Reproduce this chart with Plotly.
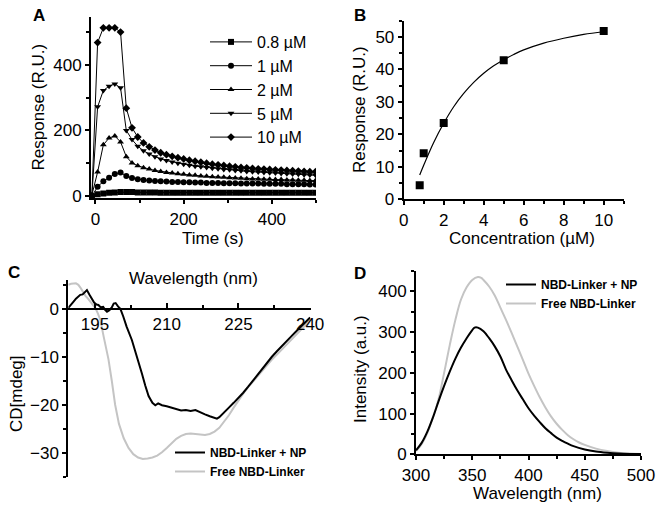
import plotly.graph_objects as go

W, H = 662, 511
FONT = "Arial, Liberation Sans, sans-serif"


def fx(p):
    return p / W


def fy(p):
    return 1 - p / H


# ---------------- Panel A data ----------------
time_s = [-8, 5, 18, 31, 44, 57, 70, 83, 96, 109, 122, 135, 148, 161, 174, 187, 200,
          213, 226, 239, 252, 265, 278, 291, 304, 317, 330, 343, 356, 369, 382, 395,
          408, 421, 434, 447, 460, 473, 486, 499]
resp_0_8uM = [0, 5, 8, 10, 11, 12, 12, 12, 11, 11, 11, 11, 10, 10, 10, 10, 10, 10, 10, 10,
              10, 10, 10, 10, 10, 10, 10, 10, 10, 10, 10, 10, 10, 10, 10, 10, 10, 10, 10, 10]
resp_1uM = [0, 28, 45, 56, 67, 72, 61, 55, 51, 49, 47, 46, 45, 44, 43, 43, 42, 42, 41, 41,
            40, 40, 40, 39, 39, 39, 38, 38, 38, 38, 37, 37, 37, 37, 36, 36, 36, 36, 35, 35]
resp_2uM = [3, 73, 156, 177, 183, 165, 120, 101, 92, 86, 82, 78, 75, 72, 70, 68, 66, 64, 63, 61,
            60, 59, 58, 57, 56, 55, 54, 53, 52, 52, 51, 51, 50, 50, 49, 49, 48, 48, 47, 47]
resp_5uM = [0, 272, 322, 335, 342, 330, 200, 172, 152, 138, 128, 120, 113, 108, 104, 100, 97,
            94, 91, 89, 87, 85, 83, 81, 80, 78, 77, 75, 74, 73, 72, 71, 70, 69, 68, 67, 66,
            65, 64, 63]
resp_10uM = [0, 468, 513, 513, 513, 500, 268, 208, 180, 162, 150, 140, 132, 126, 121, 117, 113,
             109, 106, 103, 100, 97, 95, 93, 91, 89, 87, 86, 84, 83, 82, 81, 80, 79, 78, 77,
             76, 75, 74, 74]
series_names_A = ["0.8 µM", "1 µM", "2 µM", "5 µM", "10 µM"]
series_symbols_A = ["square", "circle", "triangle-up", "triangle-down", "diamond"]

# ---------------- Panel B data ----------------
conc_uM = [0.8, 1, 2, 5, 10]
resp_B = [4.3, 14.2, 23.5, 42.8, 51.8]
fit_conc = [0.8, 1.0, 1.5, 2.0, 2.5, 3.0, 3.5, 4.0, 4.5, 5.0, 5.5, 6.0, 7.0, 8.0, 9.0, 10.0]
fit_resp = [7.5, 10.5, 17.5, 23.4, 28.5, 32.6, 36.0, 38.8, 41.1, 43.0, 44.6, 46.0, 48.1, 49.6,
            50.8, 51.6]

# ---------------- Panel C data ----------------
cd_np_nm = [189.4, 190, 190.5, 191, 191.5, 191.9, 192.4, 192.9, 193.3, 193.8, 194.3, 194.8,
            195.3, 195.7, 196.2, 196.7, 197.1, 197.5, 198, 198.5, 198.9, 199.3, 199.8, 200.3,
            200.9, 201.6, 202.7, 203.5, 204.1, 204.8, 205.5, 206.2, 207, 207.6, 208.2, 209,
            210, 211, 212, 213, 214, 215, 216, 217, 218, 219, 220, 220.5, 221, 222, 223, 224,
            225, 226, 227, 228, 229, 230, 231, 232, 233, 234, 235, 236, 237, 238, 239, 240]
cd_np = [0.2, 0.8, 1.5, 2.1, 2.6, 2.9, 3.0, 3.4, 3.9, 3.0, 2.0, 1.3,
         0.9, 0.8, 0.3, 0.4, -0.2, -0.6, -0.3, 0.3, 1.1, 1.2, 0.5, 0.0,
         -1.6, -3.7, -6.5, -9.0, -11.0, -13.5, -16.0, -18.2, -19.6, -20.1, -19.7, -20.1,
         -20.3, -20.6, -21.0, -21.2, -21.1, -21.3, -21.1, -21.6, -22.0, -22.4, -22.8, -22.9,
         -22.6, -21.7, -20.6, -19.6, -18.6, -17.5, -16.3, -15.0, -13.7, -12.4, -11.2, -10.0,
         -8.9, -7.8, -6.8, -5.8, -4.8, -3.8, -2.8, -1.8]
cd_free_nm = [189.4, 190, 191, 191.5, 192, 192.5, 193, 193.6, 194.3, 195.1, 195.6, 196.1,
              196.8, 197.3, 197.8, 198.5, 199.2, 200, 201, 202, 203, 204, 205, 206, 207,
              208, 209, 210, 211, 212, 213, 214, 215, 216, 217, 218, 219, 220, 221, 222,
              223, 224, 225, 226, 227, 228, 229, 230, 231, 232, 233, 234, 235, 236, 237,
              238, 239, 240]
cd_free = [5.0, 5.2, 5.3, 5.0, 4.3, 3.4, 2.7, 2.0, 1.0, 0.1, -1.0, -2.3,
           -5.8, -8.0, -10.5, -15.0, -20.0, -24.0, -27.0, -29.0, -30.3, -31.0, -31.3, -31.2,
           -31.0, -30.6, -29.9, -29.0, -28.0, -27.1, -26.5, -26.1, -26.0, -26.1, -26.25,
           -26.3, -26.1, -25.6, -24.8, -23.6, -22.2, -20.6, -19.1, -17.7, -16.4, -15.2,
           -14.0, -12.9, -11.8, -10.6, -9.6, -8.6, -7.6, -6.6, -5.6, -4.6, -3.5, -2.4]

# ---------------- Panel D data ----------------
fl_np_nm = [300, 305, 310, 315, 320, 325, 330, 335, 340, 345, 350, 352, 355, 360, 365, 370,
            375, 380, 385, 390, 395, 400, 405, 410, 415, 420, 425, 430, 435, 440, 450, 460,
            470, 480, 490, 500]
fl_np = [10, 28, 55, 90, 130, 168, 203, 235, 262, 285, 305, 311, 311, 302, 285, 265,
         240, 208, 182, 157, 135, 113, 95, 79, 64, 52, 41, 33, 26, 20, 12, 7,
         4, 2, 1, 0.5]
fl_free_nm = [300, 305, 310, 315, 320, 325, 330, 335, 340, 345, 350, 355, 358, 360, 365, 370,
              375, 380, 385, 390, 395, 400, 405, 410, 415, 420, 425, 430, 435, 440, 445, 450,
              460, 470, 480, 490, 500]
fl_free = [8, 25, 52, 90, 135, 200, 268, 330, 380, 410, 428, 435, 433, 428, 412, 390,
           360, 330, 298, 265, 232, 198, 168, 140, 115, 93, 75, 60, 47, 37, 29, 23,
           14, 8, 4, 2, 1]

legend_names_CD = ["NBD-Linker + NP", "Free NBD-Linker"]
BLACK = "#000000"
GREY = "#c4c4c4"

fig = go.Figure()

# Panel A traces
for name, sym, vals in zip(series_names_A, series_symbols_A,
                           [resp_0_8uM, resp_1uM, resp_2uM, resp_5uM, resp_10uM]):
    fig.add_trace(go.Scatter(x=time_s, y=vals, mode="lines+markers", name=name,
                             line=dict(color=BLACK, width=1),
                             marker=dict(symbol=sym, size=6, color=BLACK),
                             xaxis="x", yaxis="y", legend="legend"))

# Panel B traces
fig.add_trace(go.Scatter(x=fit_conc, y=fit_resp, mode="lines",
                         line=dict(color=BLACK, width=1.2, shape="spline"),
                         showlegend=False, xaxis="x2", yaxis="y2"))
fig.add_trace(go.Scatter(x=conc_uM, y=resp_B, mode="markers",
                         marker=dict(symbol="square", size=8, color=BLACK),
                         showlegend=False, xaxis="x2", yaxis="y2"))

# Panel C traces
fig.add_trace(go.Scatter(x=cd_free_nm, y=cd_free, mode="lines", name=legend_names_CD[1],
                         line=dict(color=GREY, width=2), xaxis="x3", yaxis="y3",
                         legend="legend2", legendrank=2))
fig.add_trace(go.Scatter(x=cd_np_nm, y=cd_np, mode="lines", name=legend_names_CD[0],
                         line=dict(color=BLACK, width=2), xaxis="x3", yaxis="y3",
                         legend="legend2", legendrank=1))

# Panel D traces
fig.add_trace(go.Scatter(x=fl_free_nm, y=fl_free, mode="lines", name=legend_names_CD[1],
                         line=dict(color=GREY, width=2, shape="spline"), xaxis="x4", yaxis="y4",
                         legend="legend3", legendrank=2))
fig.add_trace(go.Scatter(x=fl_np_nm, y=fl_np, mode="lines", name=legend_names_CD[0],
                         line=dict(color=BLACK, width=2, shape="spline"), xaxis="x4", yaxis="y4",
                         legend="legend3", legendrank=1))

tickfont = dict(family=FONT, size=17, color=BLACK)
common = dict(showline=True, linecolor=BLACK, linewidth=2, showgrid=False, zeroline=False,
              ticks="outside", ticklen=4, tickwidth=1.5, tickcolor=BLACK, tickfont=tickfont,
              automargin=False)

fig.update_layout(
    width=W, height=H,
    margin=dict(l=0, r=0, t=0, b=0, autoexpand=False),
    paper_bgcolor="white", plot_bgcolor="white",
    font=dict(family=FONT, color=BLACK),
    xaxis=dict(domain=[fx(91), fx(316)], range=[-10, 500], anchor="y",
               tickvals=[0, 200, 400],
               minor=dict(tickvals=[100, 300, 500], ticks="outside", ticklen=3, tickcolor=BLACK),
               **common),
    yaxis=dict(domain=[fy(198.3), fy(17)], range=[-7, 546], anchor="x",
               tickvals=[0, 200, 400],
               minor=dict(tickvals=[100, 300, 500], ticks="outside", ticklen=3, tickcolor=BLACK),
               **common),
    xaxis2=dict(domain=[fx(403.7), fx(623.7)], range=[0, 11], anchor="y2",
                tickvals=[0, 2, 4, 6, 8, 10],
                minor=dict(tickvals=[1, 3, 5, 7, 9, 11], ticks="outside", ticklen=3, tickcolor=BLACK),
                **common),
    yaxis2=dict(domain=[fy(199.3), fy(20.7)], range=[0, 55], anchor="x2",
                tickvals=[0, 10, 20, 30, 40, 50],
                minor=dict(tickvals=[5, 15, 25, 35, 45, 55], ticks="outside", ticklen=3, tickcolor=BLACK),
                **common),
    xaxis3=dict(domain=[fx(68.3), fx(310.6)], range=[189.4, 240.1], anchor="free",
                position=fy(308.8), tickvals=[195, 210, 225, 240],
                minor=dict(tickvals=[202.5, 217.5, 232.5], ticks="inside", ticklen=3, tickcolor=BLACK),
                showline=True, linecolor=BLACK, linewidth=2, showgrid=False, zeroline=False,
                ticks="inside", ticklen=5, tickwidth=1.5, tickcolor=BLACK, tickfont=tickfont,
                automargin=False),
    yaxis3=dict(domain=[fy(476.7), fy(280)], range=[-35, 6], anchor="x3",
                tickvals=[-30, -20, -10, 0],
                minor=dict(tickvals=[-35, -25, -15, -5, 5], ticks="outside", ticklen=3, tickcolor=BLACK),
                **common),
    xaxis4=dict(domain=[fx(416), fx(641)], range=[300, 500], anchor="y4",
                tickvals=[300, 350, 400, 450, 500],
                minor=dict(tickvals=[325, 375, 425, 475], ticks="outside", ticklen=3, tickcolor=BLACK),
                **common),
    yaxis4=dict(domain=[fy(454.3), fy(271)], range=[0, 450], anchor="x4",
                tickvals=[0, 100, 200, 300, 400],
                minor=dict(tickvals=[50, 150, 250, 350, 450], ticks="outside", ticklen=3, tickcolor=BLACK),
                **common),
    legend=dict(x=fx(205), y=fy(25), xanchor="left", yanchor="top", bgcolor="rgba(0,0,0,0)",
                font=dict(family=FONT, size=16, color=BLACK), itemwidth=42, tracegroupgap=0),
    legend2=dict(x=fx(170), y=fy(438), xanchor="left", yanchor="top", bgcolor="rgba(0,0,0,0)",
                 font=dict(family=FONT, size=12, color=BLACK, weight="bold"), itemwidth=30),
    legend3=dict(x=fx(501), y=fy(270), xanchor="left", yanchor="top", bgcolor="rgba(0,0,0,0)",
                 font=dict(family=FONT, size=12, color=BLACK, weight="bold"), itemwidth=30),
)

title_font = dict(family=FONT, size=17, color=BLACK)
annotations = [
    dict(text="Time (s)", x=fx(212.5), y=fy(238), showarrow=False),
    dict(text="Response (R.U.)", x=fx(37.5), y=fy(107), textangle=-90, showarrow=False),
    dict(text="Concentration (µM)", x=fx(522), y=fy(238), showarrow=False),
    dict(text="Response (R.U.)", x=fx(359), y=fy(110), textangle=-90, showarrow=False),
    dict(text="Wavelength (nm)", x=fx(193), y=fy(278), showarrow=False),
    dict(text="CD[mdeg]", x=fx(16), y=fy(394), textangle=-90, showarrow=False),
    dict(text="Wavelength (nm)", x=fx(537.7), y=fy(493), showarrow=False),
    dict(text="Intensity (a.u.)", x=fx(360), y=fy(369), textangle=-90, showarrow=False),
]
for a in annotations:
    a.update(xref="paper", yref="paper", font=title_font, xanchor="center", yanchor="middle")
letters = [("A", 39, 15), ("B", 359.5, 15), ("C", 13.5, 272), ("D", 359.5, 273)]
for t, x, y in letters:
    annotations.append(dict(text="<b>%s</b>" % t, x=fx(x), y=fy(y), xref="paper", yref="paper",
                            showarrow=False, xanchor="center", yanchor="middle",
                            font=dict(family=FONT, size=17, color=BLACK)))
fig.update_layout(annotations=annotations)

fig.write_html("out.html", config={"displayModeBar": False},
               post_script="document.body.style.margin='0';document.body.style.padding='0';")
